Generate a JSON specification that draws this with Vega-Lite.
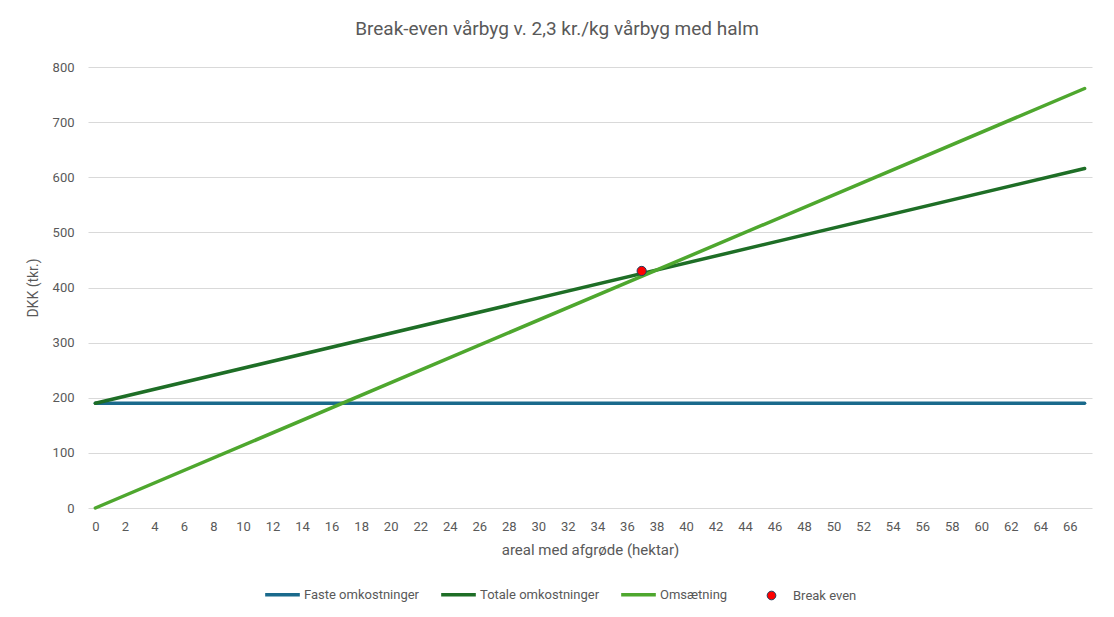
{
  "$schema": "https://vega.github.io/schema/vega-lite/v6.json",
  "width": 1004,
  "height": 441,
  "autosize": {"type": "none"},
  "padding": {"left": 88, "top": 67, "right": 22, "bottom": 109},
  "background": "white",
  "title": {
    "text": "Break-even vårbyg v. 2,3 kr./kg vårbyg med halm",
    "fontSize": 19,
    "font": "Roboto",
    "fontWeight": "normal",
    "color": "#595959",
    "anchor": "middle",
    "dx": -33,
    "offset": 22
  },
  "config": {
    "view": {"stroke": null},
    "axis": {"labelFont": "Roboto", "titleFont": "Roboto", "labelColor": "#595959", "titleColor": "#595959", "titleFontWeight": "normal"},
    "legend": {"labelFont": "Roboto", "labelColor": "#595959"}
  },
  "datasets": {
    "lines": [
      {"areal": 0, "dkk": 190, "serie": "Faste omkostninger"},
      {"areal": 67, "dkk": 190, "serie": "Faste omkostninger"},
      {"areal": 0, "dkk": 190, "serie": "Totale omkostninger"},
      {"areal": 67, "dkk": 616, "serie": "Totale omkostninger"},
      {"areal": 0, "dkk": 0, "serie": "Omsætning"},
      {"areal": 67, "dkk": 761, "serie": "Omsætning"}
    ],
    "point": [
      {"areal": 37, "dkk": 430, "serie": "Break even"}
    ]
  },
  "encoding": {
    "x": {
      "field": "areal", "type": "quantitative",
      "scale": {"domain": [-0.5, 67.5], "nice": false, "zero": false},
      "axis": {
        "title": "areal med afgrøde (hektar)",
        "values": [0,2,4,6,8,10,12,14,16,18,20,22,24,26,28,30,32,34,36,38,40,42,44,46,48,50,52,54,56,58,60,62,64,66],
        "grid": false, "domain": false, "ticks": false,
        "labelFontSize": 13, "labelPadding": 12, "titleFontSize": 15, "titlePadding": 9,
        "labelFlush": false, "labelOverlap": false, "labelBound": false
      }
    },
    "y": {
      "field": "dkk", "type": "quantitative",
      "scale": {"domain": [0, 800], "nice": false},
      "axis": {
        "title": "DKK (tkr.)",
        "values": [0,100,200,300,400,500,600,700,800],
        "grid": true, "gridColor": "#D9D9D9", "gridWidth": 1,
        "domain": false, "ticks": false,
        "labelFontSize": 13, "labelPadding": 14, "titleFontSize": 14, "titlePadding": 12
      }
    }
  },
  "layer": [
    {
      "data": {"name": "lines"},
      "mark": {"type": "line", "strokeWidth": 3.5, "strokeCap": "round"},
      "encoding": {
        "color": {
          "field": "serie", "type": "nominal", "sort": null,
          "scale": {
            "domain": ["Faste omkostninger", "Totale omkostninger", "Omsætning"],
            "range": ["#1A6A8C", "#1E6E26", "#4EA72E"]
          },
          "legend": {
            "title": null, "orient": "none", "legendX": 175, "legendY": 508,
            "direction": "horizontal", "symbolType": "stroke", "symbolSize": 1200,
            "symbolStrokeWidth": 3.5, "labelFontSize": 13, "labelOffset": 2, "columnPadding": 14
          }
        }
      }
    },
    {
      "data": {"name": "point"},
      "mark": {"type": "point", "filled": true, "size": 85, "stroke": "#1F3F5F", "strokeWidth": 1, "opacity": 1},
      "encoding": {
        "fill": {
          "field": "serie", "type": "nominal",
          "scale": {"domain": ["Break even"], "range": ["#FF0000"]},
          "legend": {
            "title": null, "orient": "none", "legendX": 677, "legendY": 522,
            "symbolType": "circle", "symbolSize": 75, "symbolStrokeColor": "#1F3F5F", "symbolStrokeWidth": 1,
            "labelFontSize": 13, "labelOffset": 15
          }
        }
      }
    }
  ]
}
